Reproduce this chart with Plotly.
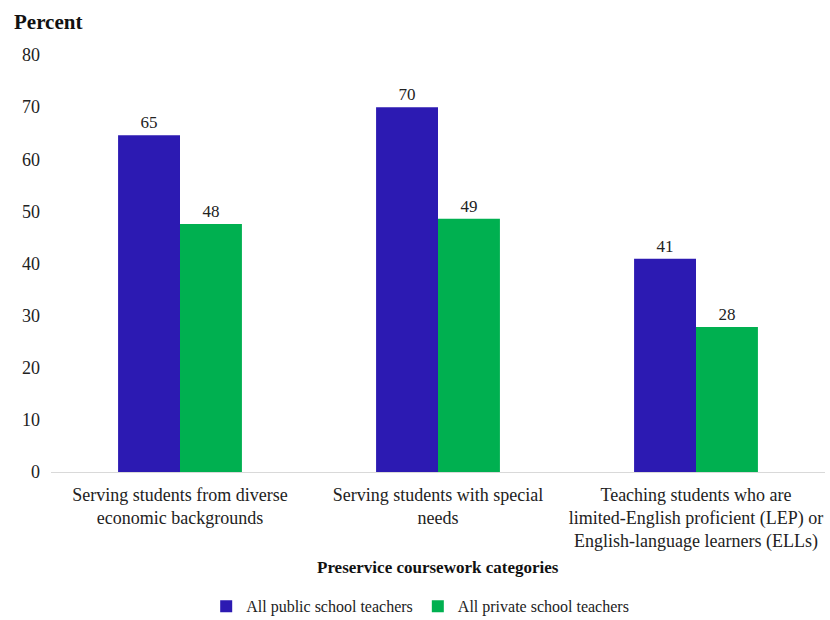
import plotly.graph_objects as go

categories = [
    "Serving students from diverse<br>economic backgrounds",
    "Serving students with special<br>needs",
    "Teaching students who are<br>limited-English proficient (LEP) or<br>English-language learners (ELLs)",
]
public_vals = [64.6, 70.0, 40.9]
private_vals = [47.6, 48.6, 27.8]
public_labels = ["65", "70", "41"]
private_labels = ["48", "49", "28"]

FONT = "Liberation Serif, Times New Roman, serif"
BLUE = "#2c1ab2"
GREEN = "#00b050"

fig = go.Figure()
fig.add_trace(go.Bar(
    x=categories, y=public_vals, name="All public school teachers",
    marker=dict(color=BLUE, line=dict(width=0)),
    text=public_labels, textposition="outside", cliponaxis=False,
    textfont=dict(family=FONT, size=17, color="#222"),
))
fig.add_trace(go.Bar(
    x=categories, y=private_vals, name="All private school teachers",
    marker=dict(color=GREEN, line=dict(width=0)),
    text=private_labels, textposition="outside", cliponaxis=False,
    textfont=dict(family=FONT, size=17, color="#222"),
))

fig.update_layout(
    width=830, height=620,
    margin=dict(l=51, r=5, t=55, b=148, autoexpand=False),
    paper_bgcolor="white", plot_bgcolor="white",
    barmode="group", bargap=0.52, bargroupgap=0,
    font=dict(family=FONT, size=17, color="#222"),
    showlegend=True,
    legend=dict(orientation="h", x=0.477, xanchor="center", y=-0.322, yanchor="middle",
                font=dict(family=FONT, size=16, color="#222"), traceorder="normal",
                itemwidth=30),
    xaxis=dict(showgrid=False, showline=True, linecolor="#d9d9d9", linewidth=1,
               tickfont=dict(family=FONT, size=18, color="#222"), ticks="",
               ticklabelstandoff=6, automargin=False),
    yaxis=dict(range=[0, 80], dtick=10, showgrid=False, zeroline=False, showline=False,
               tickfont=dict(family=FONT, size=18, color="#222"), ticklabelstandoff=10,
               automargin=False),
    annotations=[
        dict(text="<b>Percent</b>", xref="paper", yref="paper", x=-0.05, xanchor="left",
             y=1.0, yshift=33, yanchor="middle", showarrow=False,
             font=dict(family=FONT, size=21, color="#111")),
        dict(text="<b>Preservice coursework categories</b>", xref="paper", yref="paper",
             x=0.5, xanchor="center", y=-0.228, yanchor="middle", showarrow=False,
             font=dict(family=FONT, size=17, color="#111")),
    ],
)

fig.write_html("out.html")
